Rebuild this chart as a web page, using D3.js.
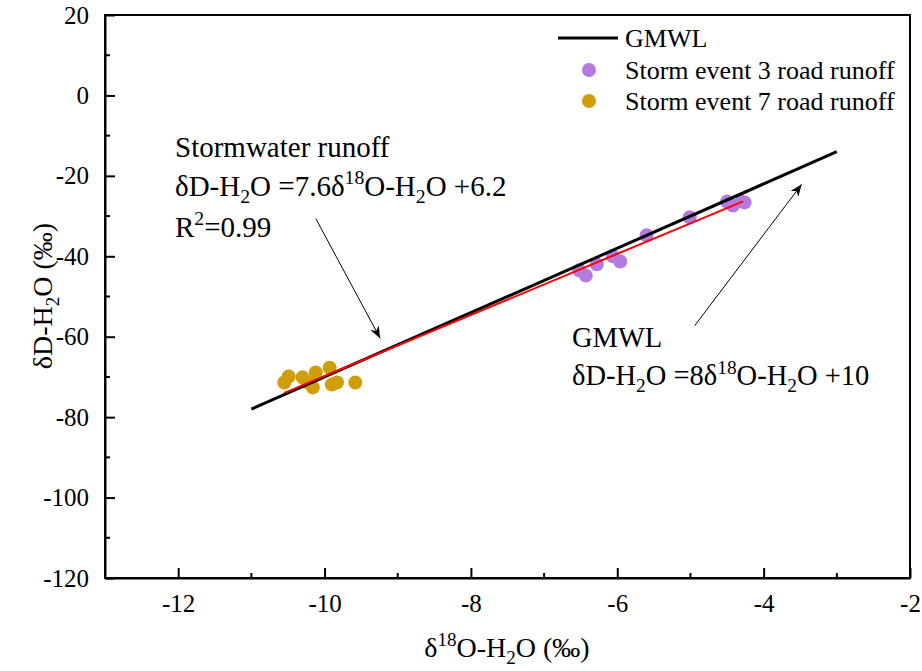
<!DOCTYPE html>
<html>
<head>
<meta charset="utf-8">
<script src="https://cdn.jsdelivr.net/npm/d3@7"></script>
</head>
<body style="margin:0">
<div id="chart"></div>
<script>
// datos
const xTicks = [-12, -10, -8, -6, -4, -2]
const yTicks = [20, 0, -20, -40, -60, -80, -100, -120]

const event3X = [-6.52, -6.43, -6.28, -6.06, -5.96, -5.60, -5.01, -4.50, -4.42, -4.30, -4.26]
const event3Y = [-43.5, -44.8, -42.0, -40.0, -41.3, -34.8, -30.3, -26.4, -27.4, -26.4, -26.6]

const event7X = [-10.55, -10.49, -10.30, -10.23, -10.12, -10.16, -9.93, -9.90, -9.83, -9.58]
const event7Y = [-71.4, -69.9, -70.1, -71.4, -68.9, -72.6, -67.7, -71.9, -71.4, -71.4]

// rectas: GMWL y ajuste de escorrentia
const gmwlX = [-11, -3]
const fitX = [-10.55, -4.28]
const gmwl = (x) => 8 * x + 10
const fit = (x) => 7.6 * x + 6.2

const fuente = "Liberation Serif"
const anchoTotal = 922
const altoTotal = 671
const margins = { top: 15, right: 12, bottom: 93, left: 105 }
const ancho = anchoTotal - margins.left - margins.right
const alto = altoTotal - margins.top - margins.bottom

const svg = d3.select("#chart")
  .append("svg")
  .attr("width", anchoTotal)
  .attr("height", altoTotal)
  .attr("font-family", fuente)

const g = svg.append("g")
  .attr("transform", `translate(${margins.left}, ${margins.top})`)

const x = d3.scaleLinear().domain([-13, -2]).range([0, ancho])
const y = d3.scaleLinear().domain([-120, 20]).range([alto, 0])

// marco
g.append("rect")
  .attr("width", ancho)
  .attr("height", alto)
  .attr("fill", "none")
  .attr("stroke", "#000")
  .attr("stroke-width", 2)

// ejes con ticks hacia dentro
const fmt = (d) => String(d)
const xAxis = d3.axisBottom(x).tickValues(xTicks).tickFormat(fmt).tickSizeInner(-10).tickSizeOuter(0).tickPadding(16)
const yAxis = d3.axisLeft(y).tickValues(yTicks).tickFormat(fmt).tickSizeInner(-10).tickSizeOuter(0).tickPadding(16)

const xAxisGroup = g.append("g")
  .attr("transform", `translate(0, ${alto})`)
  .call(xAxis)
const yAxisGroup = g.append("g").call(yAxis)
;[xAxisGroup, yAxisGroup].forEach((a) => {
  a.attr("font-family", fuente).attr("font-size", 25)
  a.selectAll("path, line").attr("stroke", "#000").attr("stroke-width", 2)
  a.selectAll("text").attr("fill", "#000")
})

// ticks menores
const xMinor = d3.range(-13, -2, 1).filter((d) => !xTicks.includes(d))
const yMinor = d3.range(-110, 20, 20)
g.append("g").selectAll("line").data(xMinor).enter().append("line")
  .attr("x1", (d) => x(d)).attr("x2", (d) => x(d))
  .attr("y1", alto).attr("y2", alto - 5)
  .attr("stroke", "#000").attr("stroke-width", 2)
g.append("g").selectAll("line").data(yMinor).enter().append("line")
  .attr("x1", 0).attr("x2", 5)
  .attr("y1", (d) => y(d)).attr("y2", (d) => y(d))
  .attr("stroke", "#000").attr("stroke-width", 2)

// puntos
const pts3 = event3X.map((d, i) => ({ x: d, y: event3Y[i] }))
const pts7 = event7X.map((d, i) => ({ x: d, y: event7Y[i] }))

g.append("g").selectAll("circle").data(pts3).enter().append("circle")
  .attr("cx", (d) => x(d.x)).attr("cy", (d) => y(d.y)).attr("r", 7)
  .attr("fill", "#b57ae0")
g.append("g").selectAll("circle").data(pts7).enter().append("circle")
  .attr("cx", (d) => x(d.x)).attr("cy", (d) => y(d.y)).attr("r", 7)
  .attr("fill", "#d19e0b")

// rectas
const linea = d3.line().x((d) => x(d[0])).y((d) => y(d[1]))
g.append("path")
  .datum(gmwlX.map((d) => [d, gmwl(d)]))
  .attr("d", linea)
  .attr("fill", "none").attr("stroke", "#000").attr("stroke-width", 3)
g.append("path")
  .datum(fitX.map((d) => [d, fit(d)]))
  .attr("d", linea)
  .attr("fill", "none").attr("stroke", "#f00").attr("stroke-width", 2)

// flechas
svg.append("defs").append("marker")
  .attr("id", "flecha")
  .attr("viewBox", "0 0 10 10")
  .attr("refX", 10).attr("refY", 5)
  .attr("markerWidth", 12).attr("markerHeight", 12)
  .attr("markerUnits", "userSpaceOnUse")
  .attr("orient", "auto")
  .append("path").attr("d", "M0,1 L10,5 L0,9 L3,5 Z").attr("fill", "#000")

const flechas = [
  [[-10.12, -30.6], [-9.24, -60.4]],
  [[-4.94, -57.2], [-3.48, -22.1]],
]
g.append("g").selectAll("line").data(flechas).enter().append("line")
  .attr("x1", (d) => x(d[0][0])).attr("y1", (d) => y(d[0][1]))
  .attr("x2", (d) => x(d[1][0])).attr("y2", (d) => y(d[1][1]))
  .attr("stroke", "#000").attr("stroke-width", 1)
  .attr("marker-end", "url(#flecha)")

// textos con sub/superindices
const texto = (px, py, partes, size = 28, anchor = "start") => {
  const t = svg.append("text").attr("x", px).attr("y", py)
    .attr("font-size", size).attr("fill", "#000").attr("font-family", fuente)
    .attr("text-anchor", anchor)
  const d = size * 0.24
  partes.forEach((p) => {
    const s = t.append("tspan").text(p[0])
    if (p[1] === "sub") s.attr("font-size", size * 0.68).attr("dy", d)
    if (p[1] === "sup") s.attr("font-size", size * 0.68).attr("dy", -size * 0.4)
    if (p[1] === "back") s.attr("dy", -d)
    if (p[1] === "down") s.attr("dy", size * 0.4)
  })
  return t
}

texto(175, 157, [["Stormwater runoff"]], 29)
texto(175, 196, [["δD-H"], ["2", "sub"], ["O =7.6δ", "back"], ["18", "sup"], ["O-H", "down"], ["2", "sub"], ["O +6.2", "back"]], 29)
texto(175, 237, [["R"], ["2", "sup"], ["=0.99", "down"]], 29)

texto(572, 347, [["GMWL"]], 28.5)
texto(572, 385, [["δD-H"], ["2", "sub"], ["O =8δ", "back"], ["18", "sup"], ["O-H", "down"], ["2", "sub"], ["O +10", "back"]], 28.5)

// titulos de ejes
texto(507, 657, [["δ"], ["18", "sup"], ["O-H", "down"], ["2", "sub"], ["O (‰)", "back"]], 28, "middle")
const yt = svg.append("g").attr("transform", "translate(52, 296) rotate(-90)")
const ytt = yt.append("text").attr("text-anchor", "middle").attr("font-size", 28).attr("font-family", fuente)
ytt.append("tspan").text("δD-H")
ytt.append("tspan").text("2").attr("font-size", 19).attr("dy", 7)
ytt.append("tspan").text("O (‰)").attr("dy", -7)

// leyenda
const leyenda = svg.append("g")
leyenda.append("line").attr("x1", 558).attr("x2", 618).attr("y1", 38).attr("y2", 38)
  .attr("stroke", "#000").attr("stroke-width", 3)
leyenda.append("circle").attr("cx", 589).attr("cy", 70).attr("r", 7).attr("fill", "#b57ae0")
leyenda.append("circle").attr("cx", 589).attr("cy", 101).attr("r", 7).attr("fill", "#d19e0b")
const etiquetas = ["GMWL", "Storm event 3 road runoff", "Storm event 7 road runoff"]
leyenda.selectAll("text").data(etiquetas).enter().append("text")
  .attr("x", 625).attr("y", (d, i) => 47 + i * 31.5)
  .attr("font-size", 26).attr("font-family", fuente).text((d) => d)
</script>
</body>
</html>
